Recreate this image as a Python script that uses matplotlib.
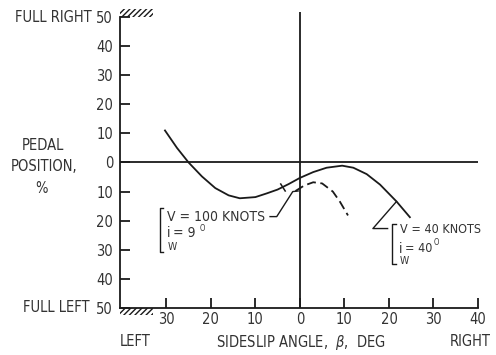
import matplotlib
matplotlib.use('Agg')
import matplotlib.pyplot as plt
from matplotlib import font_manager
from matplotlib.patches import Rectangle

fp = font_manager.FontProperties(family='DejaVu Sans', stretch='condensed')
found = font_manager.findfont(fp)
plt.rcParams['font.family'] = ['DejaVu Sans']
if 'Condensed' in found:
    plt.rcParams['font.stretch'] = 'condensed'

INK = '#1a1a1a'
TXT = '#333333'

# data (sideslip angle in deg, pedal position in %)
beta_40kt = [-30.3, -27.6, -25.0, -22.0, -19.0, -16.0, -13.5, -10.0, -7.4, -5.0, -2.5,
             0.0, 3.0, 6.0, 9.5, 12.0, 15.0, 18.0, 21.7, 24.7]
pedal_40kt = [11.0, 5.0, 0.0, -4.8, -8.8, -11.3, -12.3, -11.9, -10.6, -9.3, -7.4,
              -5.3, -3.3, -1.8, -1.1, -1.8, -4.0, -7.6, -13.4, -18.8]

beta_100kt = [-1.0, 1.0, 3.0, 5.0, 7.4, 9.0, 10.8]
pedal_100kt = [-9.8, -7.9, -6.8, -7.2, -10.0, -13.5, -18.2]

xticks = [-30, -20, -10, 0, 10, 20, 30, 40]
xtick_labels = ['30', '20', '10', '0', '10', '20', '30', '40']
yticks = [50, 40, 30, 20, 10, 0, -10, -20, -30, -40, -50]
ytick_labels = ['50', '40', '30', '20', '10', '0', '10', '20', '30', '40', '50']

W, H = 496, 355
fig = plt.figure(figsize=(W / 100, H / 100), dpi=100)
ax = fig.add_axes([120 / W, 1 - 308 / H, (478 - 120) / W, (308 - 12) / H])
ax.set_xlim(-40.4, 40)
ax.set_ylim(-50, 51.7)

for s in ['top', 'right']:
    ax.spines[s].set_visible(False)
for s in ['left', 'bottom']:
    ax.spines[s].set_linewidth(1.3)
    ax.spines[s].set_color(INK)
ax.spines['left'].set_bounds(-50, 50)

ax.set_xticks(xticks)
ax.set_xticklabels(xtick_labels)
ax.set_yticks(yticks)
ax.set_yticklabels(ytick_labels)
ax.tick_params(direction='in', length=7, width=1.3, color=INK, labelsize=10.5,
               labelcolor=TXT)
ax.tick_params(axis='y', pad=5)
ax.tick_params(axis='x', pad=3)

# reference lines
ax.axhline(0, color=INK, lw=1.3)
ax.axvline(0, color=INK, lw=1.3)

# curves
ax.plot(beta_40kt, pedal_40kt, color=INK, lw=1.3)
ax.plot(beta_100kt, pedal_100kt, color=INK, lw=1.3, dashes=(5, 2.5))
ax.plot([-4.3, -3.3], [-7.4, -9.8], color=INK, lw=1.1)

# hatched stops
plt.rcParams['hatch.linewidth'] = 1.0
ax.add_patch(Rectangle((-40.4, 50), 7.4, 2.8, hatch='//////', fill=False,
                       lw=0, edgecolor=INK, clip_on=False))
ax.add_patch(Rectangle((-40.4, -52.5), 7.4, 2.5, hatch='//////', fill=False,
                       lw=0, edgecolor=INK, clip_on=False))

# annotations: leaders and brackets
ax.plot([-6.7, -5.2, -1.6, -0.4], [-18.6, -18.6, -10.0, -9.8], color=INK, lw=1.0)
ax.plot([21.7, 16.4, 19.7], [-13.4, -22.7, -22.7], color=INK, lw=1.0)

def bracket(x, y0, y1):
    ax.plot([x + 0.8, x, x, x + 0.8], [y0, y0, y1, y1], color=INK, lw=1.0,
            clip_on=False)

bracket(-31.5, -15.8, -30.9)
bracket(20.7, -21.0, -35.0)

ax.text(-29.8, -18.6, 'V = 100 KNOTS', fontsize=10, color=TXT, va='center')
ax.text(-29.9, -24.4, 'i', fontsize=10, color=TXT, va='center')
ax.text(-29.7, -28.9, 'W', fontsize=7.5, color=TXT, va='center')
ax.text(-28.4, -24.4, '= 9', fontsize=10, color=TXT, va='center')
ax.text(-22.6, -22.6, 'O', fontsize=5.5, color=TXT, va='center')

ax.text(22.4, -23.2, 'V = 40 KNOTS', fontsize=9, color=TXT, va='center')
ax.text(22.2, -29.6, 'i', fontsize=10, color=TXT, va='center')
ax.text(22.4, -34.0, 'W', fontsize=7.5, color=TXT, va='center')
ax.text(23.6, -29.6, '= 40', fontsize=9, color=TXT, va='center')
ax.text(30.0, -27.6, 'O', fontsize=5.5, color=TXT, va='center')

# outer labels
fkw = dict(fontsize=10.5, color=TXT, va='center')
fig.text(92 / W, 1 - 17 / H, 'FULL RIGHT', ha='right', **fkw)
fig.text(90 / W, 1 - 308 / H, 'FULL LEFT', ha='right', **fkw)
fig.text(43 / W, 1 - 145 / H, 'PEDAL', ha='center', **fkw)
fig.text(44 / W, 1 - 166 / H, 'POSITION,', ha='center', **fkw)
fig.text(42 / W, 1 - 189 / H, '%', ha='center', **fkw)
fig.text(120 / W, 1 - 342 / H, 'LEFT', ha='left', **fkw)
fig.text(301 / W, 1 - 342 / H, 'SIDESLIP ANGLE,  $\\beta$,  DEG', ha='center', **fkw)
fig.text(491 / W, 1 - 342 / H, 'RIGHT', ha='right', **fkw)

fig.savefig('out.png', dpi=100)
